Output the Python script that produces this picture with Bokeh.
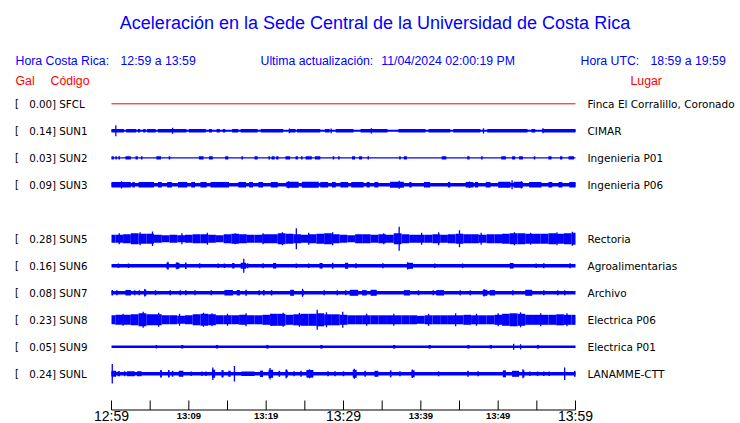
from bokeh.plotting import figure
from bokeh.models import Range1d
from bokeh.core.properties import value
from bokeh.embed import file_html
from bokeh.resources import INLINE

# ---------------- data ----------------
codes = ["SFCL", "SUN1", "SUN2", "SUN3", "SUN5", "SUN6", "SUN7", "SUN8", "SUN9", "SUNL"]
gal = [0.00, 0.14, 0.03, 0.09, 0.28, 0.16, 0.08, 0.23, 0.05, 0.24]
places = ["Finca El Corralillo, Coronado", "CIMAR", "Ingenieria P01", "Ingenieria P06",
          "Rectoria", "Agroalimentarias", "Archivo", "Electrica P06", "Electrica P01", "LANAMME-CTT"]
slots = [0, 1, 2, 3, 5, 6, 7, 8, 9, 10]          # SUN4 slot is empty

tick_minutes = [0, 5, 10, 15, 20, 25, 30, 35, 40, 45, 50, 55, 60]
label_minutes = [0, 10, 20, 30, 40, 50, 60]
label_texts = ["12:59", "13:09", "13:19", "13:29", "13:39", "13:49", "13:59"]
label_big = [True, False, False, True, False, False, True]

# continuous trace half-thickness (display units)
core = {"SFCL": 0.0, "SUN1": 1.0, "SUN2": 0.6, "SUN3": 1.8, "SUN5": 0.0, "SUN6": 1.7,
        "SUN7": 1.7, "SUN8": 0.0, "SUN9": 1.3, "SUNL": 1.7}

# one-minute envelopes (half amplitude) for the noisiest stations
env_SUN5 = [4, 4, 4.5, 5.5, 5, 5, 4, 3.5, 4, 3.5, 4, 4.5, 4.5, 4, 3.5, 4.5, 5, 4.5, 4, 4,
            4.5, 4.5, 5.5, 5, 4.5, 4, 4.5, 5, 5.5, 4.5, 4, 3.5, 4.5, 4.5, 4, 4.5, 4, 5.5, 4.5, 4,
            4, 4, 4.5, 4, 4.5, 5, 4.5, 4.5, 4, 4.5, 4.5, 5, 5.5, 5.5, 5, 5, 5, 5.5, 5, 5.5, 6]
env_SUN8 = [4.5, 5, 5, 5.5, 6.5, 5.5, 5.5, 4.5, 4.5, 4, 4.5, 5.5, 6, 5.5, 4.5, 4.5, 4.5, 5, 4.5, 4.5,
            5, 6, 6, 5, 5.5, 6, 6, 6.5, 5.5, 5.5, 5, 4.5, 4.5, 4.5, 4.5, 4.5, 4.5, 4.5, 4.5, 4.5,
            4, 4.5, 4.5, 4.5, 4.5, 4.5, 5, 4.5, 4.5, 4.5, 5, 6, 6.5, 6, 5, 5, 5, 5, 5.5, 5, 5]

# bursts: (start minute, end minute, half amplitude)
bursts_SUN1 = [(0, 1.6, 1.8), (1.9, 3.2, 1.8), (3.4, 3.7, 1.8), (4.1, 4.4, 1.8), (4.6, 5.7, 1.8),
               (6.0, 9.7, 1.8), (10.0, 12.2, 1.8), (12.6, 13.0, 1.8), (13.6, 14.0, 1.8),
               (14.4, 14.7, 1.8), (15.6, 16.4, 1.8), (16.7, 18.9, 1.8), (19.3, 22.2, 1.8),
               (23.0, 23.8, 1.8), (24.0, 27.0, 1.8), (27.6, 28.2, 1.8), (29.0, 31.3, 1.8),
               (32.2, 35.7, 1.8), (37.1, 40.6, 1.8), (41.0, 43.8, 1.8), (44.2, 47.7, 1.8),
               (48.6, 53.8, 1.8), (54.3, 54.8, 1.8), (55.7, 60, 1.8)]
bursts_SUN2 = [(0, 0.3, 1.6), (0.5, 0.7, 1.6), (0.9, 1.1, 1.6), (1.8, 2.5, 1.6), (3.1, 3.4, 1.6),
               (3.8, 4.0, 1.6), (5.8, 6.4, 1.6), (7.4, 7.6, 1.6), (11.3, 11.9, 1.6), (12.6, 13.1, 1.6),
               (14.7, 15.1, 1.6), (16.8, 17.0, 1.6), (18.5, 18.9, 1.6), (20.3, 20.5, 1.6),
               (20.7, 21.1, 1.6), (21.3, 21.6, 1.6), (22.5, 23.1, 1.6), (23.8, 24.1, 1.6),
               (24.5, 24.7, 1.6), (25.1, 25.9, 1.6), (26.3, 27.0, 1.6), (28.6, 28.8, 1.6),
               (29.3, 29.5, 1.6), (31.1, 31.5, 1.6), (32.0, 32.4, 1.6), (33.1, 33.3, 1.6),
               (37.2, 37.4, 1.6), (37.8, 38.2, 1.6), (42.7, 43.3, 1.6), (46.0, 46.3, 1.6),
               (47.8, 48.0, 1.6), (50.4, 51.0, 1.6), (51.8, 52.2, 1.6), (52.7, 53.2, 1.6),
               (54.6, 54.8, 1.6), (56.5, 56.9, 1.6), (58.0, 58.3, 1.6), (59.1, 59.8, 1.6)]
bursts_SUN3 = [(0, 2.5, 2.8), (2.7, 3.0, 2.8), (3.5, 5.5, 2.8), (6.0, 6.5, 2.8), (7.2, 7.8, 2.8),
               (8.6, 9.8, 2.8), (10.3, 10.8, 2.8), (11.5, 12.3, 2.8), (12.8, 15.2, 2.8),
               (16.4, 17.4, 2.8), (17.8, 18.3, 2.8), (19.0, 19.6, 2.8), (20.6, 21.5, 2.8),
               (22.6, 24.2, 3.0), (24.6, 26.8, 3.0), (27.0, 28.0, 2.8), (28.5, 29.0, 2.8),
               (29.6, 30.6, 2.8), (31.0, 32.6, 2.8), (33.0, 33.4, 2.8), (34.0, 34.5, 2.8),
               (36.0, 37.8, 3.0), (38.5, 38.8, 2.8), (40.4, 41.2, 2.8), (43.5, 43.8, 2.8),
               (45.8, 46.8, 2.8), (47.0, 47.4, 2.8), (48.4, 49.0, 2.8), (50.0, 51.6, 3.0),
               (52.0, 53.2, 3.0), (54.0, 55.6, 2.8), (56.5, 57.0, 2.8), (57.8, 58.3, 2.8), (59.2, 60, 2.8)]
bursts_SUN6 = [(0.8, 1.0, 2.3), (2.1, 2.3, 2.3), (7.1, 7.4, 3.0), (8.3, 8.8, 3.0), (9.5, 9.7, 3.3),
               (11.3, 11.5, 2.5), (13.7, 13.9, 2.3), (14.5, 14.7, 2.3), (15.6, 15.9, 2.8),
               (16.7, 17.4, 3.0), (17.5, 17.7, 2.5), (19.5, 19.7, 2.5), (20.9, 21.3, 2.8),
               (23.8, 24.0, 2.3), (25.4, 25.6, 2.3), (26.9, 27.3, 2.8), (28.5, 28.7, 3.0),
               (30.2, 30.6, 3.0), (31.5, 31.7, 2.5), (35.0, 35.2, 2.5), (38.2, 39.0, 3.0),
               (41.7, 41.9, 2.3), (45.3, 45.5, 2.3), (51.5, 52.0, 2.8), (54.8, 55.0, 2.3),
               (55.8, 56.0, 2.5), (59.2, 59.4, 2.5)]
bursts_SUN7 = [(0, 0.2, 2.7), (0.6, 0.8, 2.5), (1.8, 2.5, 2.7), (2.9, 3.1, 2.5), (3.5, 3.7, 2.5),
               (4.2, 4.5, 3.0), (5.6, 5.8, 2.5), (7.5, 7.7, 2.5), (8.8, 9.0, 2.5), (9.5, 9.7, 2.5),
               (10.7, 10.9, 2.5), (12.8, 13.0, 2.5), (14.6, 15.7, 2.7), (16.2, 16.6, 2.7),
               (17.3, 17.5, 3.0), (19.0, 19.2, 2.5), (19.6, 19.8, 2.7), (20.6, 20.8, 2.7),
               (23.1, 23.6, 3.0), (24.7, 24.9, 2.5), (27.4, 27.6, 2.5), (29.1, 29.3, 2.5),
               (30.2, 30.4, 2.5), (30.8, 31.9, 3.0), (32.4, 33.0, 2.7), (33.5, 34.3, 3.0),
               (37.8, 38.6, 2.7), (39.6, 39.8, 2.5), (41.5, 41.7, 2.5), (42.0, 43.0, 2.7),
               (45.0, 45.2, 2.5), (46.3, 46.5, 2.5), (48.0, 48.6, 3.0), (48.9, 49.6, 2.7),
               (51.8, 52.0, 2.5), (53.5, 54.4, 3.0), (55.8, 56.0, 2.5), (57.6, 57.8, 2.5),
               (58.5, 58.7, 2.5)]
bursts_SUN9 = [(5.7, 5.9, 1.8), (9.0, 9.3, 1.8), (13.5, 13.8, 1.8), (20.0, 20.3, 1.8),
               (27.0, 27.3, 1.8), (36.4, 36.7, 1.8), (41.0, 41.3, 1.8), (46.0, 46.3, 1.8),
               (48.9, 49.2, 1.8), (55.0, 55.3, 1.8)]
bursts_SUNL = [(0, 0.6, 3.0), (0.8, 1.1, 2.5), (1.6, 1.8, 2.5), (2.0, 3.0, 2.5), (3.3, 3.9, 2.5),
               (6.3, 6.5, 3.5), (7.3, 7.5, 3.3), (7.8, 8.0, 3.0), (8.7, 9.3, 3.0), (10.2, 10.4, 2.3),
               (11.6, 11.8, 2.3), (12.1, 12.3, 2.3), (13.0, 13.4, 4.0), (14.3, 14.5, 3.5),
               (15.1, 15.4, 3.0), (16.8, 18.5, 2.3), (19.2, 19.6, 3.2), (20.3, 20.9, 4.0),
               (21.6, 21.8, 3.0), (22.5, 22.8, 3.5), (23.5, 23.7, 2.5), (24.4, 24.6, 3.0),
               (25.2, 26.1, 3.8), (27.9, 28.1, 2.5), (28.8, 29.0, 2.5), (29.9, 30.1, 2.5),
               (31.2, 31.7, 4.0), (32.7, 32.9, 3.0), (34.0, 34.5, 3.0), (36.0, 36.2, 3.5),
               (37.2, 37.4, 2.5), (38.8, 39.2, 3.5), (42.2, 42.4, 2.5), (46.0, 46.2, 3.0),
               (47.3, 47.5, 2.5), (50.6, 51.0, 3.5), (51.8, 52.7, 3.0), (53.2, 53.4, 3.5),
               (54.0, 54.2, 2.3), (55.0, 55.2, 2.3), (55.8, 56.0, 2.3), (56.5, 56.7, 2.3),
               (59.8, 60.0, 3.0)]

# isolated spikes: (minute, half amplitude)
spikes_SUN1 = [(0.56, 5.5), (7.9, 3.0), (23.0, 2.4), (28.4, 2.4), (33.6, 2.6), (48.1, 2.6), (55.8, 2.5)]
spikes_SUN3 = [(1.3, 3.6), (22.9, 3.5), (37.2, 4.0), (46.3, 3.2), (51.8, 4.5), (53.0, 3.6)]
spikes_SUN5 = [(1.0, 5.5), (3.7, 6.5), (5.3, 7.3), (9.1, 5.5), (12.4, 6), (16.0, 5.5), (19.6, 5.5),
               (22.1, 6.5), (23.9, 10.5), (25.5, 6), (28.6, 6.5), (35.2, 5.5), (37.2, 12), (40.1, 6),
               (42.3, 6.5), (45.0, 8.5), (47.8, 6), (52.1, 6.5), (54.2, 6), (57.6, 6.5), (59.6, 7)]
spikes_SUN6 = [(7.3, 4.0), (8.5, 3.5), (17.1, 7.0), (38.3, 3.6)]
spikes_SUN7 = [(4.3, 3.8), (24.7, 4.0), (48.2, 3.6)]
spikes_SUN8 = [(1.5, 6), (4.1, 8), (6.1, 7), (8.8, 6), (11.9, 7), (13.0, 6.5), (15.0, 6), (17.4, 6.5),
               (20.7, 6), (22.2, 7), (24.3, 7), (26.6, 10), (27.8, 7.5), (29.9, 8), (33.0, 6),
               (36.5, 6), (41.0, 6), (44.5, 6.5), (47.2, 6), (50.0, 6.5), (52.9, 7.5), (55.5, 6.5),
               (58.9, 6.5)]
spikes_SUN9 = [(52.0, 3.0), (52.9, 2.6)]
spikes_SUNL = [(0.1, 9.7), (6.4, 3.8), (7.4, 3.8), (13.1, 6.2), (14.3, 3.8), (15.9, 7.8), (20.5, 5.8),
               (22.6, 4.5), (25.6, 4.5), (31.4, 5.0), (38.9, 4.3), (53.2, 4.5), (58.6, 6.3)]

envelopes = {"SUN5": env_SUN5, "SUN8": env_SUN8}
bursts = {"SUN1": bursts_SUN1, "SUN2": bursts_SUN2, "SUN3": bursts_SUN3, "SUN6": bursts_SUN6,
          "SUN7": bursts_SUN7, "SUN9": bursts_SUN9, "SUNL": bursts_SUNL}
spikes = {"SUN1": spikes_SUN1, "SUN3": spikes_SUN3, "SUN5": spikes_SUN5, "SUN6": spikes_SUN6,
          "SUN7": spikes_SUN7, "SUN8": spikes_SUN8, "SUN9": spikes_SUN9, "SUNL": spikes_SUNL}

# ---------------- layout ----------------
W, H = 740, 423
T_START, T_END = tick_minutes[0], tick_minutes[-1]
X0_PX, X1_PX = 111, 575
PPM = (X1_PX - X0_PX) / (T_END - T_START)


def fx(page_x):
    return (page_x - X0_PX) / PPM + T_START


def ty(baseline_y, size):
    # svg text baseline correction (text renders ~0.4em lower than the given y)
    return baseline_y - 0.4 * size


ROW0 = 103.3
ROW_STEP = 27.0
BLUE = "#0000ff"
RED = "#ff0000"

p = figure(width=W, height=H, output_backend="svg", toolbar_location=None,
           x_axis_type=None, y_axis_type=None, min_border=0,
           x_range=Range1d(fx(0), fx(W)), y_range=Range1d(H, 0))
p.outline_line_color = None
p.grid.visible = False
p.background_fill_color = "white"
p.border_fill_color = "white"

# ---- traces ----
L, R, T, B = [], [], [], []
sx, sy0, sy1 = [], [], []
for code, slot in zip(codes, slots):
    y = ROW0 + slot * ROW_STEP
    if code == "SFCL":
        p.segment(x0=[T_START], y0=[y], x1=[T_END], y1=[y], line_color=RED, line_width=1)
        continue
    c = core[code]
    if c > 0:
        L.append(T_START); R.append(T_END); T.append(y - c); B.append(y + c)
    if code in envelopes:
        for i, h in enumerate(envelopes[code]):
            t = T_START + i
            L.append(max(T_START, t - 0.5)); R.append(min(T_END, t + 0.5))
            T.append(y - h); B.append(y + h)
    for (t0, t1, h) in bursts.get(code, []):
        L.append(t0); R.append(t1); T.append(y - h); B.append(y + h)
    for (t, h) in spikes.get(code, []):
        sx.append(t); sy0.append(y - h); sy1.append(y + h)

p.quad(left=L, right=R, top=T, bottom=B, fill_color=BLUE, line_color=None)
p.segment(x0=sx, y0=sy0, x1=sx, y1=sy1, line_color=BLUE, line_width=1.3)

# ---- time axis ----
AX_Y = 409.5
TICK_TOP = 400
p.segment(x0=[T_START], y0=[AX_Y], x1=[T_END], y1=[AX_Y], line_color="black", line_width=1)
p.segment(x0=tick_minutes, y0=[TICK_TOP] * len(tick_minutes), x1=tick_minutes,
          y1=[AX_Y] * len(tick_minutes), line_color="black", line_width=1)
big_x = [m for m, b in zip(label_minutes, label_big) if b]
big_t = [s for s, b in zip(label_texts, label_big) if b]
sm_x = [m for m, b in zip(label_minutes, label_big) if not b]
sm_t = [s for s, b in zip(label_texts, label_big) if not b]
p.text(x=big_x, y=[ty(420.8, 14)] * len(big_x), text=big_t, text_font=value("Liberation Sans"),
       text_font_size="14px", text_align="center", text_baseline="alphabetic", text_color="black")
p.text(x=sm_x, y=[ty(418.4, 9.5)] * len(sm_x), text=sm_t, text_font=value("Liberation Sans"),
       text_font_size="9.5px", text_font_style="bold", text_align="center",
       text_baseline="alphabetic", text_color="black")

# ---- station labels ----
row_text_y = [ty(ROW0 + s * ROW_STEP + 4.2, 10.3) for s in slots]
n = len(codes)
p.text(x=[fx(14.5)] * n, y=row_text_y, text=["["] * n, text_font=value("DejaVu Sans"),
       text_font_size="10px", text_align="left", text_baseline="alphabetic", text_color="black")
p.text(x=[fx(55.6)] * n, y=row_text_y, text=[f"{g:.2f}]" for g in gal], text_font=value("DejaVu Sans"),
       text_font_size="10.3px", text_align="right", text_baseline="alphabetic", text_color="black")
p.text(x=[fx(58.8)] * n, y=row_text_y, text=codes, text_font=value("DejaVu Sans"),
       text_font_size="10.3px", text_align="left", text_baseline="alphabetic", text_color="black")
p.text(x=[fx(587)] * n, y=row_text_y, text=places, text_font=value("DejaVu Sans"),
       text_font_size="10.5px", text_align="left", text_baseline="alphabetic", text_color="black")

# ---- headers ----
p.text(x=[fx(374.5)], y=[ty(29.3, 18)], text=["Aceleración en la Sede Central de la Universidad de Costa Rica"],
       text_font=value("Liberation Sans"), text_font_size="18px", text_align="center",
       text_baseline="alphabetic", text_color=BLUE)
hdr_x = [fx(15), fx(120), fx(260), fx(380.7), fx(580), fx(650)]
hdr_t = ["Hora Costa Rica:", "12:59 a 13:59", "Ultima actualización:", "11/04/2024 02:00:19 PM",
         "Hora UTC:", "18:59 a 19:59"]
p.text(x=hdr_x, y=[ty(65, 12.3)] * len(hdr_x), text=hdr_t, text_font=value("Liberation Sans"),
       text_font_size="12.3px", text_align="left", text_baseline="alphabetic", text_color=BLUE)
red_x = [fx(15), fx(50), fx(630)]
red_t = ["Gal", "Código", "Lugar"]
p.text(x=red_x, y=[ty(85, 12.3)] * 3, text=red_t, text_font=value("Liberation Sans"),
       text_font_size="12.3px", text_align="left", text_baseline="alphabetic", text_color=RED)

open("out.html", "w").write(file_html(p, INLINE))
